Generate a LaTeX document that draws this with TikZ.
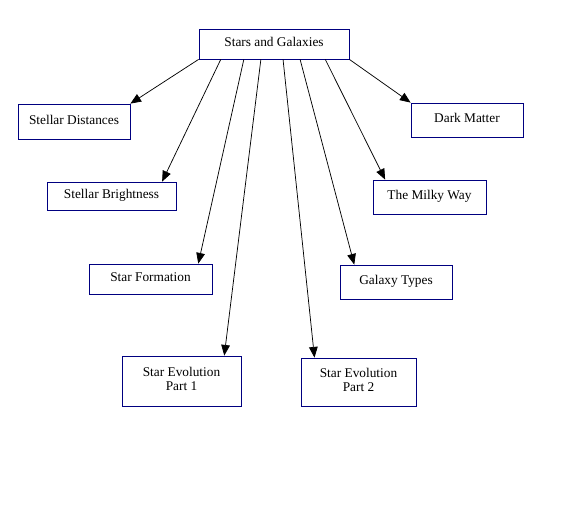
\documentclass[tikz,border=0pt]{standalone}
\usepackage{fontspec}
\setmainfont{Liberation Serif}
\usetikzlibrary{arrows.meta,calc}
\definecolor{boxblue}{RGB}{0,0,128}
\newcommand{\boxtext}[2][3pt]{\raisebox{#1}{\begin{tabular}{@{}c@{}}#2\end{tabular}}}
\begin{document}
\begin{tikzpicture}[x=0.75pt,y=-0.75pt,
  every node/.style={font=\fontsize{10}{10.5}\selectfont},
  topic/.style 2 args={draw=boxblue,line width=0.6pt,fill=white,inner sep=0pt,
    minimum width=#1*0.75pt,minimum height=#2*0.75pt},
  arr/.style={black,line width=0.55pt,-{Triangle[length=8pt,width=6.5pt]}}]
\useasboundingbox[fill=white] (0,0) rectangle (565,531);
\node[topic={150}{30}] (root) at (274,44) {\boxtext[2pt]{Stars and Galaxies}};
\node[topic={112}{35}] (sd) at (74,121.5) {\boxtext{Stellar Distances}};
\node[topic={129}{28}] (sb) at (111.5,196) {\boxtext[2pt]{Stellar Brightness}};
\node[topic={123}{30}] (sf) at (150.5,279) {\boxtext{Star Formation}};
\node[topic={119}{50}] (se1) at (181.5,381) {\boxtext[7pt]{Star Evolution\\Part 1}};
\node[topic={115}{48}] (se2) at (358.5,382) {\boxtext[7pt]{Star Evolution\\Part 2}};
\node[topic={112}{34}] (gt) at (396,282) {\boxtext{Galaxy Types}};
\node[topic={113}{34}] (mw) at (429.5,197) {\boxtext{The Milky Way}};
\node[topic={112}{34}] (dm) at (467,120) {\boxtext[3.5pt]{Dark Matter}};
\draw[arr] (root.south west) -- (sd.north east);
\draw[arr] ($(root.south west)!0.147!(root.south east)$) -- ($(sb.north west)!0.89!(sb.north east)$);
\draw[arr] ($(root.south west)!0.30!(root.south east)$) -- ($(sf.north west)!0.886!(sf.north east)$);
\draw[arr] ($(root.south west)!0.413!(root.south east)$) -- ($(se1.north west)!0.857!(se1.north east)$);
\draw[arr] ($(root.south west)!0.56!(root.south east)$) -- ($(se2.north west)!0.12!(se2.north east)$);
\draw[arr] ($(root.south west)!0.673!(root.south east)$) -- ($(gt.north west)!0.13!(gt.north east)$);
\draw[arr] ($(root.south west)!0.84!(root.south east)$) -- ($(mw.north west)!0.11!(mw.north east)$);
\draw[arr] (root.south east) -- (dm.north west);
\end{tikzpicture}
\end{document}
